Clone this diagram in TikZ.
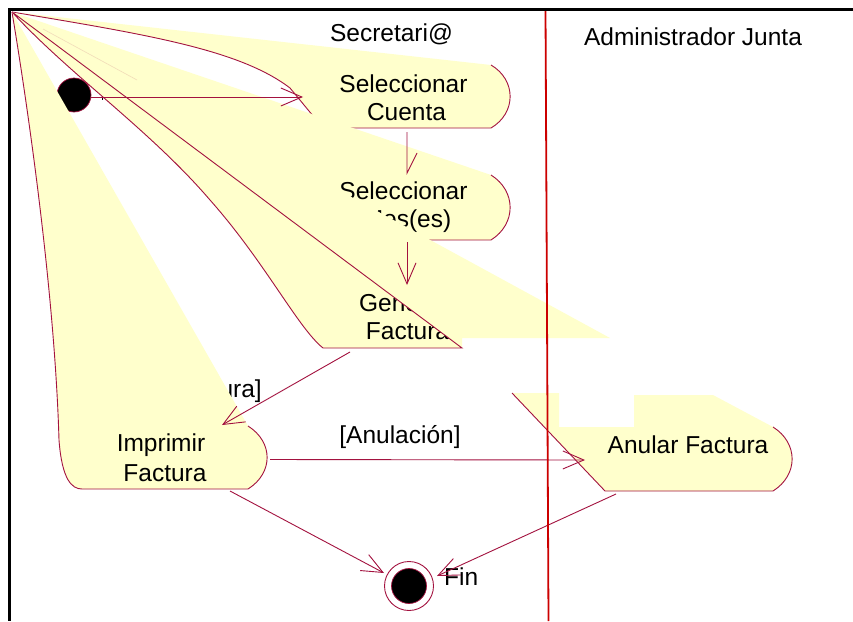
\documentclass[tikz,border=0pt]{standalone}
\usepackage{fontspec}
\setmainfont{Liberation Sans}
\usetikzlibrary{arrows.meta}
\definecolor{fillY}{HTML}{FFFFCC}
\definecolor{edgeM}{HTML}{A3123F}
\definecolor{laneR}{HTML}{CC0000}
\begin{document}
\begin{tikzpicture}[x=1pt,y=-1pt,
  txt/.style={font=\fontsize{24.5}{28}\selectfont, inner sep=0pt, anchor=base},
  edge/.style={draw=edgeM, line width=0.9pt},
  flow/.style={draw=edgeM, line width=0.9pt, -{Straight Barb[length=21pt,width=18pt]}},
  yfill/.style={fill=fillY, draw=none}]
\useasboundingbox (0,0) rectangle (853,621);
\fill[white] (0,0) rectangle (853,621);

\coordinate (K) at (12,12);

% initial node
\node[circle, fill=black, draw=edgeM, line width=0.7pt, minimum size=34pt, inner sep=0pt] (start) at (74,95) {};
\draw[black, line width=1.2pt] (102.5,94.5) -- (102.5,99.5);

% guard label (partly covered)
\node[txt, anchor=base east] (g1lab) at (262,397) {tura]};

% Seleccionar Cuenta
\path[yfill] (K) -- (491,65) .. controls (516.5,80) and (516.5,113) .. (491,128) -- (323,128) -- (290,88) .. controls (240,50) and (150,35) .. (K) -- cycle;
\draw[edge] (K) .. controls (150,35) and (240,50) .. (290,88) -- (323,128) -- (491,128) .. controls (516.5,113) and (516.5,80) .. (491,65);
\node[txt] (s1a) at (403.5,92) {Seleccionar};
\node[txt] (s1b) at (406.5,120) {Cuenta};

% Seleccionar Mes(es)
\path[yfill] (K) -- (491,175) .. controls (516.5,191) and (516.5,224) .. (491,240) -- (428,240) -- cycle;
\draw[edge] (428,240) -- (491,240) .. controls (516.5,224) and (516.5,191) .. (491,175);
\node[txt] (s2a) at (403.5,199) {Seleccionar};
\node[txt] (s2b) at (407,227) {Mes(es)};

% Generar Factura
\path[yfill] (K) .. controls (70,75) and (150,130) .. (210,200) .. controls (265,262) and (298,328) .. (323,348) -- (462,348) -- cycle;
\node[txt] (g1) at (404,311) {Generar};
\node[txt] (g2) at (407.5,339) {Factura};
\path[yfill] (K) -- (610,338) -- (462,338) -- (462,348) -- cycle;
\draw[edge] (K) .. controls (70,75) and (150,130) .. (210,200) .. controls (265,262) and (298,328) .. (323,348) -- (462,348) -- (K);
\draw[edgeM, opacity=0.15, line width=0.6pt] (43,29) -- (137,80);

% Imprimir Factura
\path[yfill] (K) -- (248,426) .. controls (273.5,442) and (273.5,473) .. (248,489) -- (82,489) .. controls (72,489) and (62,480) .. (59,440) .. controls (55,300) and (30,120) .. (K) -- cycle;
\draw[edge] (K) .. controls (30,120) and (55,300) .. (59,440) .. controls (62,480) and (72,489) .. (82,489) -- (248,489) .. controls (273.5,473) and (273.5,442) .. (248,426);
\node[txt] (i1) at (161,451) {Imprimir};
\node[txt] (i2) at (165,481) {Factura};

% Anular Factura
\path[yfill] (512,393) -- (559,393) -- (559,427) -- (634,427) -- (634,395) -- (713,395) -- (773,427) .. controls (798.5,443) and (798.5,475) .. (773,491) -- (605,491) -- cycle;
\draw[edge] (512,393) -- (605,491) -- (773,491) .. controls (798.5,475) and (798.5,443) .. (773,427);
\node[txt] (an) at (688,453) {Anular Factura};

% final node
\node[circle, draw=edgeM, fill=white, line width=0.9pt, minimum size=49pt, inner sep=0pt] (fin) at (409,586) {};
\node[circle, fill=black, draw=edgeM, line width=0.7pt, minimum size=35pt, inner sep=0pt] (finin) at (fin) {};
\node[txt, anchor=base west] (finlab) at (444,585) {Fin};

% connectors
\coordinate (a0s) at (91,97);   \coordinate (a0e) at (303,97);
\coordinate (a1s) at (407,132); \coordinate (a1e) at (407,173);
\coordinate (a2s) at (407,242); \coordinate (a2e) at (407,285);
\coordinate (a3s) at (350,352); \coordinate (a3e) at (222,425);
\coordinate (a4s) at (270,459.5); \coordinate (a4e) at (585,460);
\coordinate (a5s) at (230,491); \coordinate (a5e) at (384,573);
\coordinate (a6s) at (616,494); \coordinate (a6e) at (437,576);
\draw[flow] (a0s) -- (a0e);
\draw[edge] (a1s) -- (a1e) -- ++(10,-20);
\draw[flow] (a2s) -- (a2e);
\draw[flow] (a3s) -- (a3e);
\draw[flow] (a4s) -- (a4e);
\node[txt] (anlab) at (400,443) {[Anulación]};
\draw[flow] (a5s) -- (a5e);
\draw[flow] (a6s) -- (a6e);

% swimlanes and frame
\draw[laneR, line width=1.8pt] (545.5,10) -- (548.5,621);
\draw[black, line width=3pt] (8,9.5) -- (853,9.5);
\draw[black, line width=3pt] (9.5,8) -- (9.5,621);
\node[txt] (lane1) at (391.5,41) {Secretari@};
\node[txt] (lane2) at (693,45) {Administrador Junta};
\end{tikzpicture}
\end{document}
